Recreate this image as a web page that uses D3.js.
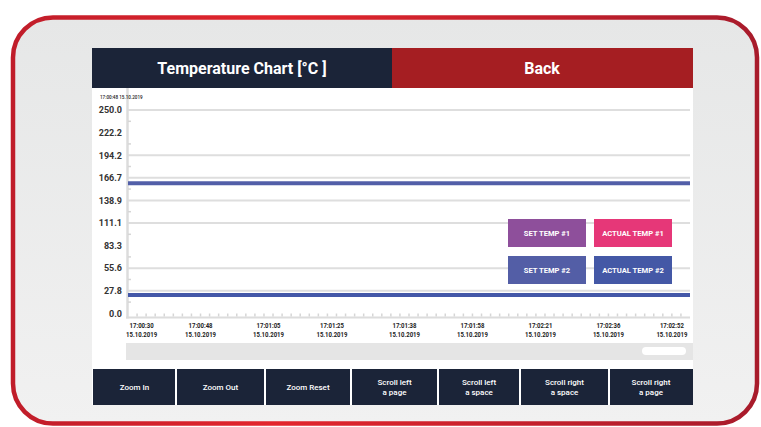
<!DOCTYPE html>
<html><head><meta charset="utf-8">
<script src="https://cdn.jsdelivr.net/npm/d3@7"></script>
<style>html,body{margin:0;padding:0;background:#fff;}svg{display:block;font-family:Roboto,"Noto Sans",sans-serif;}</style>
</head><body>
<script>
// ---- data ----
const title = "Temperature Chart [°C ]";
const backLabel = "Back";
const yTickLabels = ["0.0","27.8","55.6","83.3","111.1","138.9","166.7","194.2","222.2","250.0"];
const yTickValues = [0, 27.8, 55.6, 83.3, 111.1, 138.9, 166.7, 194.4, 222.2, 250];
const gridValues = [27.8, 55.6, 111.1, 138.9, 166.7, 194.4, 250];
const xTickTimes = ["17:00:30","17:00:48","17:01:05","17:01:25","17:01:38","17:01:58","17:02:21","17:02:36","17:02:52"];
const xTickDate = "15.10.2019";
const xTickIndex = [1.5, 8, 15.5, 22.5, 30.5, 38, 45.5, 53, 60];
const sampleIndex = [0, 8, 15.5, 22.5, 30.5, 38, 45.5, 53, 62];
const setTemp2 = [160, 160, 160, 160, 160, 160, 160, 160, 160];
const actualTemp2 = [22.5, 22.5, 22.5, 22.5, 22.5, 22.5, 22.5, 22.5, 22.5];
const legendNames = ["SET TEMP #1","ACTUAL TEMP #1","SET TEMP #2","ACTUAL TEMP #2"];
const legendColors = ["#8e4f9b","#e63778","#535ea6","#4458a6"];
const cornerStamp = "17:00:48 15.10.2019";
const buttons = [["Zoom In"],["Zoom Out"],["Zoom Reset"],["Scroll left","a page"],["Scroll left","a space"],["Scroll right","a space"],["Scroll right","a page"]];
const buttonEdges = [93, 176, 265, 351, 438, 520, 609, 693];

// ---- drawing ----
const W = 761, H = 427;
const svg = d3.select("body").append("svg").attr("width", W).attr("height", H);
const defs = svg.append("defs");
const pg = defs.append("linearGradient").attr("id","pg").attr("x1",0).attr("y1",0).attr("x2",0).attr("y2",1);
pg.append("stop").attr("offset","0%").attr("stop-color","#e6e7e7");
pg.append("stop").attr("offset","100%").attr("stop-color","#f1f1f1");
const bg = defs.append("linearGradient").attr("id","bg").attr("x1",0).attr("y1",0).attr("x2",1).attr("y2",0);
bg.append("stop").attr("offset","0%").attr("stop-color","#c01d2a");
bg.append("stop").attr("offset","35%").attr("stop-color","#e3262d");
bg.append("stop").attr("offset","100%").attr("stop-color","#a81b2b");

svg.append("rect").attr("x",13).attr("y",17.5).attr("width",744).attr("height",406)
  .attr("rx",40).attr("ry",40).attr("fill","url(#pg)").attr("stroke","url(#bg)").attr("stroke-width",4.5);

// white chart area
svg.append("rect").attr("x",92).attr("y",48).attr("width",601).attr("height",357).attr("fill","#fff");

// header
svg.append("rect").attr("x",92).attr("y",48).attr("width",300).attr("height",40).attr("fill","#1b2438");
svg.append("rect").attr("x",392).attr("y",48).attr("width",301).attr("height",40).attr("fill","#a51e22");
svg.append("text").attr("x",242).attr("y",74).attr("text-anchor","middle").attr("fill","#fff")
  .attr("font-size",16).attr("font-weight",700).text(title);
svg.append("text").attr("x",542).attr("y",74).attr("text-anchor","middle").attr("fill","#fff")
  .attr("font-size",16).attr("font-weight",700).text(backLabel);

// scales
const x = d3.scaleLinear().domain([0, 62]).range([128, 690]);
const y = d3.scaleLinear().domain([0, 250]).range([313.4, 110]);
const g = svg.append("g");

// gridlines
g.selectAll("line.grid").data(gridValues).join("line").attr("class","grid")
  .attr("x1",x(0)).attr("x2",x(62)).attr("y1",d=>y(d)).attr("y2",d=>y(d))
  .attr("stroke","#dedede").attr("stroke-width",2);

// y axis line
g.append("line").attr("x1",127.5).attr("x2",127.5).attr("y1",88).attr("y2",318.5).attr("stroke","#dcdcdc").attr("stroke-width",2.5);
// x axis line
g.append("line").attr("x1",126).attr("x2",x(62)).attr("y1",317.5).attr("y2",317.5).attr("stroke","#dcdcdc").attr("stroke-width",2);

// y minor ticks
const yMinor = d3.range(0, 9).map(i => (yTickValues[i] + yTickValues[i+1]) / 2);
g.selectAll("line.ym").data(yMinor).join("line").attr("class","ym")
  .attr("x1",128).attr("x2",131).attr("y1",d=>y(d)).attr("y2",d=>y(d))
  .attr("stroke","#d6d6d6").attr("stroke-width",1.5);
// x minor ticks
g.selectAll("line.xm").data(d3.range(1, 62)).join("line").attr("class","xm")
  .attr("x1",d=>x(d)).attr("x2",d=>x(d)).attr("y1",313.5).attr("y2",316.5)
  .attr("stroke","#d6d6d6").attr("stroke-width",1.5);

// y labels
g.selectAll("text.yl").data(yTickValues).join("text").attr("class","yl")
  .attr("x",122).attr("y",d=>y(d)+3.3).attr("text-anchor","end")
  .attr("font-size",9).attr("font-weight",700).attr("fill","#333")
  .text((d,i)=>yTickLabels[i]);

// x labels
const xl = g.selectAll("g.xl").data(xTickIndex).join("g").attr("class","xl")
  .attr("transform",d=>`translate(${x(d)},0) scale(0.8,1)`);
xl.append("text").attr("y",328).attr("text-anchor","middle").attr("font-size",7.5).attr("font-weight",700).attr("fill","#222")
  .text((d,i)=>xTickTimes[i]);
xl.append("text").attr("y",337.5).attr("text-anchor","middle").attr("font-size",7.5).attr("font-weight",700).attr("fill","#222")
  .text(xTickDate);

// corner stamp
svg.append("text").attr("x",100).attr("y",99).attr("font-size",4.6).attr("fill","#222").attr("font-weight",500).text(cornerStamp);

// series lines
const line = d3.line().x((d,i)=>x(sampleIndex[i])).y(d=>y(d));
g.append("path").datum(setTemp2).attr("d",line).attr("fill","none").attr("stroke","#525fa8").attr("stroke-width",4);
g.append("path").datum(actualTemp2).attr("d",line).attr("fill","none").attr("stroke","#4458a8").attr("stroke-width",4);

// legend
const lg = g.selectAll("g.lg").data(legendNames).join("g").attr("class","lg")
  .attr("transform",(d,i)=>`translate(${508 + (i%2)*86},${219 + Math.floor(i/2)*37})`);
lg.append("rect").attr("width",78).attr("height",28).attr("fill",(d,i)=>legendColors[i]);
lg.append("text").attr("x",39).attr("y",17).attr("text-anchor","middle").attr("fill","#fff")
  .attr("font-size",7.6).attr("font-weight",700).text(d=>d);

// scrollbar
svg.append("rect").attr("x",126).attr("y",343).attr("width",567).attr("height",17).attr("fill","#e5e5e5");
svg.append("rect").attr("x",642).attr("y",347).attr("width",44).attr("height",8).attr("rx",4).attr("fill","#fff");

// buttons
const bt = svg.selectAll("g.bt").data(buttons).join("g").attr("class","bt");
bt.append("rect").attr("x",(d,i)=>buttonEdges[i] + (i?1:0)).attr("y",369)
  .attr("width",(d,i)=>buttonEdges[i+1]-buttonEdges[i]-(i?1:0)-(i<6?1:0)).attr("height",36).attr("fill","#1b2438");
bt.each(function(d,i){
  const cx = (buttonEdges[i]+buttonEdges[i+1])/2;
  const sel = d3.select(this);
  d.forEach((t,j)=>{
    const yy = d.length===1 ? 390 : 385 + j*10;
    sel.append("text").attr("x",cx).attr("y",yy).attr("text-anchor","middle").attr("fill","#fff")
      .attr("font-size",8).attr("font-weight",500).text(t);
  });
});
</script>
</body></html>
